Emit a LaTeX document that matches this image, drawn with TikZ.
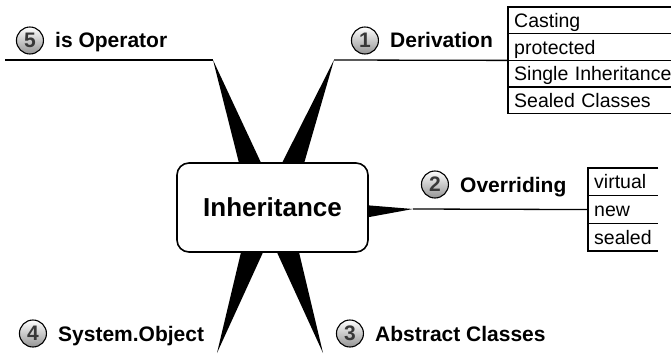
\documentclass[tikz,border=0pt]{standalone}
\usepackage{fontspec}
\setmainfont{Liberation Sans}
\usetikzlibrary{positioning}
\begin{document}
\begin{tikzpicture}[x=1pt,y=-1pt,
    hub/.style={draw, line width=1.6pt, rounded corners=12pt, fill=white, minimum width=191pt, minimum height=89pt, inner sep=0pt, font=\fontsize{26}{30}\selectfont\bfseries},
    branch/.style={anchor=west, inner sep=0pt, text height=15pt, text depth=0pt, font=\fontsize{21}{25}\selectfont\bfseries},
    numball/.style={circle, draw, line width=1.1pt, minimum size=27pt, inner sep=0pt, top color=white, bottom color=black!42, text=black!78, font=\fontsize{21}{25}\selectfont\bfseries},
    cell/.style={anchor=north west, inner xsep=6pt, inner ysep=0pt, text height=14pt, text depth=0pt, align=left, font=\fontsize{19.5}{23}\selectfont},
    spoke/.style={fill=black},
    stem/.style={line width=1.3pt}]
                \useasboundingbox (0,0) rectangle (671,353);
                \coordinate (t5) at (213,60);
                \coordinate (e5) at (5,60);
                \coordinate (t1) at (334,60);
                \coordinate (t2) at (413,209);
                \coordinate (t4) at (217,353);
                \coordinate (t3) at (323,353);
                \fill[spoke] (t5) -- (240,167) -- (263,167) -- cycle;
                \fill[spoke] (t1) -- (280,167) -- (303,167) -- cycle;
                \fill[spoke] (t2) -- (364,205) -- (364,218) -- cycle;
                \fill[spoke] (t4) -- (242,248) -- (265,248) -- cycle;
                \fill[spoke] (t3) -- (275,248) -- (298,248) -- cycle;
                \node[hub] (inh) at (272.5,207.5) {Inheritance};
                \node[cell, text width=188pt, minimum height=26.3pt] (c1) at (508,7) {Casting};
                \node[cell, text width=188pt, minimum height=26.3pt, below=0pt of c1] (c2) {protected};
                \node[cell, text width=188pt, minimum height=26.3pt, below=0pt of c2] (c3) {Single Inheritance};
                \node[cell, text width=188pt, minimum height=26.3pt, below=0pt of c3] (c4) {Sealed Classes};
                \draw[stem] (c1.north east) -- (c1.north west) -- (c4.south west) -- (c4.south east);
                \foreach \r in {c1,c2,c3}
                    \draw[stem] (\r.south west) -- (\r.south east);
                \node[cell, text width=58pt, minimum height=27.3pt] (v1) at (588,168) {virtual};
                \node[cell, text width=58pt, minimum height=27.3pt, below=0pt of v1] (v2) {new};
                \node[cell, text width=58pt, minimum height=27.3pt, below=0pt of v2] (v3) {sealed};
                \draw[stem] (v1.north east) -- (v1.north west) -- (v3.south west) -- (v3.south east);
                \foreach \r in {v1,v2}
                    \draw[stem] (\r.south west) -- (\r.south east);
                \draw[stem] (e5) -- (t5);
                \draw[stem] (t1) -- (c2.south west);
                \draw[stem] (t2) -- (v2.west);
                \node[branch] (l5) at (55,40.5) {is Operator};
                \node[numball, left=11pt of l5] (n5) {5};
                \node[branch] (l1) at (390,40.5) {Derivation};
                \node[numball, left=11pt of l1] (n1) {1};
                \node[branch] (l2) at (460,184.5) {Overriding};
                \node[numball, left=11pt of l2] (n2) {2};
                \node[branch] (l3) at (375,333.5) {Abstract Classes};
                \node[numball, left=11pt of l3] (n3) {3};
                \node[branch] (l4) at (58,333.5) {System.Object};
                \node[numball, left=11pt of l4] (n4) {4};
            \end{tikzpicture}
\end{document}
